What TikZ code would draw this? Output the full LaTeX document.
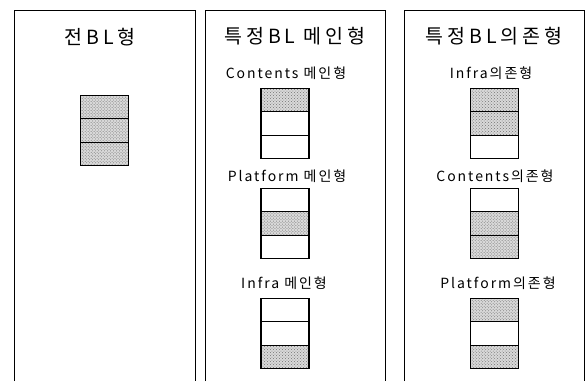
\documentclass[tikz,border=0pt]{standalone}
\usepackage{fontspec}
\setmainfont{Noto Sans CJK KR}
\newfontfamily\titlefont[LetterSpace=20]{Noto Sans CJK KR}
\newfontfamily\subfont[LetterSpace=14]{Noto Sans CJK KR}
\usetikzlibrary{patterns}
\begin{document}
\begin{tikzpicture}[x=1bp,y=-1bp,
  panel/.style={line width=0.9bp},
  cell/.style={draw, line width=1.1bp, minimum width=48bp, minimum height=23.5bp, inner sep=0pt, outer sep=0pt},
  shaded/.style={preaction={fill=gray!30}, pattern=crosshatch dots, pattern color=black!55},
  ttl/.style={font=\titlefont\fontsize{19.5bp}{22bp}\selectfont, inner sep=0pt},
  sub/.style={font=\subfont\fontsize{14bp}{16bp}\selectfont, inner sep=0pt}]
\useasboundingbox (0,0) rectangle (586,381);
% panels
\draw[panel] (14,381) -- (14,10) -- (195,10) -- (195,381);
\draw[panel] (205,381) -- (205,10) -- (385,10) -- (385,381);
\draw[panel] (404,381) -- (404,10) -- (584.5,10) -- (584.5,381);
% titles
\node[ttl] (t1) at (100,37) {전BL형};
\node[ttl] (t2) at (295,36) {특정BL 메인형};
\node[ttl] (t3) at (494,36) {특정BL의존형};
% panel 1
\node[cell,shaded] (a1) at (104.5,106.8) {};
\node[cell,shaded] (a2) at (104.5,130.3) {};
\node[cell,shaded] (a3) at (104.5,153.8) {};
% panel 2
\node[sub] (s21) at (286,73) {Contents 메인형};
\node[cell,shaded] (b1) at (285,99.8) {};
\node[cell] (b2) at (285,123.3) {};
\node[cell] (b3) at (285,146.8) {};
\node[sub] (s22) at (287,176) {Platform 메인형};
\node[cell] (c1) at (285,199.8) {};
\node[cell,shaded] (c2) at (285,223.3) {};
\node[cell] (c3) at (285,246.8) {};
\node[sub] (s23) at (284,283) {Infra 메인형};
\node[cell] (d1) at (285,309.8) {};
\node[cell] (d2) at (285,333.3) {};
\node[cell,shaded] (d3) at (285,356.8) {};
% panel 3
\node[sub] (s31) at (491,73) {Infra의존형};
\node[cell,shaded] (e1) at (494.5,99.8) {};
\node[cell,shaded] (e2) at (494.5,123.3) {};
\node[cell] (e3) at (494.5,146.8) {};
\node[sub] (s32) at (495,176) {Contents의존형};
\node[cell] (f1) at (494.5,199.8) {};
\node[cell,shaded] (f2) at (494.5,223.3) {};
\node[cell,shaded] (f3) at (494.5,246.8) {};
\node[sub] (s33) at (498,283) {Platform의존형};
\node[cell,shaded] (g1) at (494.5,309.8) {};
\node[cell] (g2) at (494.5,333.3) {};
\node[cell,shaded] (g3) at (494.5,356.8) {};
\end{tikzpicture}
\end{document}
